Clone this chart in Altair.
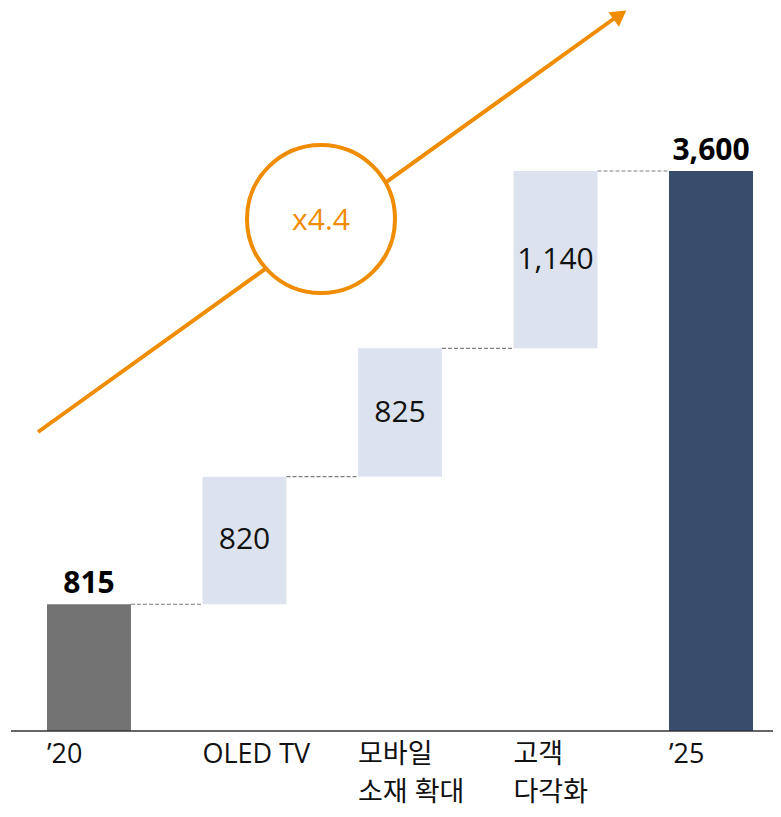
import altair as alt
import pandas as pd

keys = ["y20", "oled", "mobile", "client", "y25"]
labels_line1 = ["’20", "OLED TV", "모바일", "고객", "’25"]
labels_line2 = ["", "", "소재 확대", "다각화", ""]
values = [815, 820, 825, 1140, 3600]
kinds = ["start", "step", "step", "step", "total"]
value_text = ["815", "820", "825", "1,140", "3,600"]
multiplier_text = "x4.4"

color_map = {"start": "#737373", "step": "#DDE3EE", "total": "#384C6B"}
ORANGE = "#F08C00"
FONT = "Open Sans, Noto Sans CJK KR"

rows = []
run = 0
for k, l1, l2, v, kind, t in zip(keys, labels_line1, labels_line2, values, kinds, value_text):
    if kind == "step":
        lo, hi = run, run + v
        run = hi
    else:
        lo, hi = 0, v
        run = v
    rows.append({"key": k, "l1": l1, "l2": l2, "lo": lo, "hi": hi, "mid": (lo + hi) / 2,
                 "kind": kind, "txt": t})
df = pd.DataFrame(rows)

conn = pd.DataFrame([
    {"key": keys[i], "next": keys[i + 1], "level": rows[i]["hi"]}
    for i in range(len(keys) - 1)
])

x_scale = alt.Scale(domain=keys, range=[39, 745], paddingInner=0.46, paddingOuter=0)
y_scale = alt.Scale(domain=[0, 4648], nice=False, zero=True)

X = alt.X("key:N", scale=x_scale, axis=None)
Y = lambda f: alt.Y(f, type="quantitative", scale=y_scale, axis=None)

bars = alt.Chart(df).mark_bar().encode(
    x=X,
    y=Y("lo"),
    y2="hi:Q",
    color=alt.Color("kind:N", scale=alt.Scale(domain=list(color_map), range=list(color_map.values())), legend=None),
)

connectors = alt.Chart(conn).mark_rule(color="#7F7F7F", strokeDash=[4, 2], strokeWidth=1.2).encode(
    x=alt.X("key:N", scale=x_scale, axis=None, bandPosition=1),
    x2=alt.X2("next:N", bandPosition=0),
    y=Y("level"),
)

step_text = alt.Chart(df[df.kind == "step"]).mark_text(
    font=FONT, fontSize=30, color="#111111", baseline="middle", align="center"
).encode(x=X, y=Y("mid"), text="txt:N")

total_text = alt.Chart(df[df.kind != "step"]).mark_text(
    font=FONT, fontSize=30, fontWeight="bold", color="#000000", baseline="alphabetic", align="center", dy=-11
).encode(x=X, y=Y("hi"), text="txt:N")

XL = alt.X("key:N", scale=x_scale, axis=None, bandPosition=0)
cat_text1 = alt.Chart(df).mark_text(
    font=FONT, fontSize=27, color="#111111", baseline="alphabetic", align="left"
).encode(x=XL, y=alt.value(755), text="l1:N")
cat_text2 = alt.Chart(df[df.l2 != ""]).mark_text(
    font=FONT, fontSize=27, color="#111111", baseline="alphabetic", align="left"
).encode(x=XL, y=alt.value(793), text="l2:N")

baseline = alt.Chart(pd.DataFrame({"v": [0]})).mark_rule(color="#333333", strokeWidth=1.5).encode(
    x=alt.value(3), x2=alt.value(765), y=Y("v")
)

one = pd.DataFrame({"a": [1]})
arrow_line = alt.Chart(one).mark_rule(color=ORANGE, strokeWidth=4).encode(
    x=alt.value(30), y=alt.value(424), x2=alt.value(611), y2=alt.value(7)
)
arrow_head = alt.Chart(one).mark_point(shape="triangle-up", filled=True, color=ORANGE, size=320, angle=54.4, opacity=1).encode(
    x=alt.value(612), y=alt.value(7)
)
circle = alt.Chart(one).mark_point(shape="circle", filled=False, fill="white", fillOpacity=1, stroke=ORANGE,
                                   strokeWidth=4, size=21904, opacity=1).encode(
    x=alt.value(313), y=alt.value(211)
)
circle_text = alt.Chart(pd.DataFrame({"t": [multiplier_text]})).mark_text(
    font=FONT, fontSize=30, color=ORANGE, baseline="middle", align="center"
).encode(x=alt.value(313), y=alt.value(213), text="t:N")

chart = alt.layer(
    arrow_line, arrow_head, circle, circle_text,
    bars, connectors, step_text, total_text, baseline, cat_text1, cat_text2
).properties(
    width=765, height=723,
    autosize=alt.AutoSizeParams(type="none"),
    padding={"left": 0, "top": 0, "right": 0, "bottom": 78},
).configure_view(stroke=None)

chart.save("out.html", embed_options={"renderer": "svg", "actions": False})
